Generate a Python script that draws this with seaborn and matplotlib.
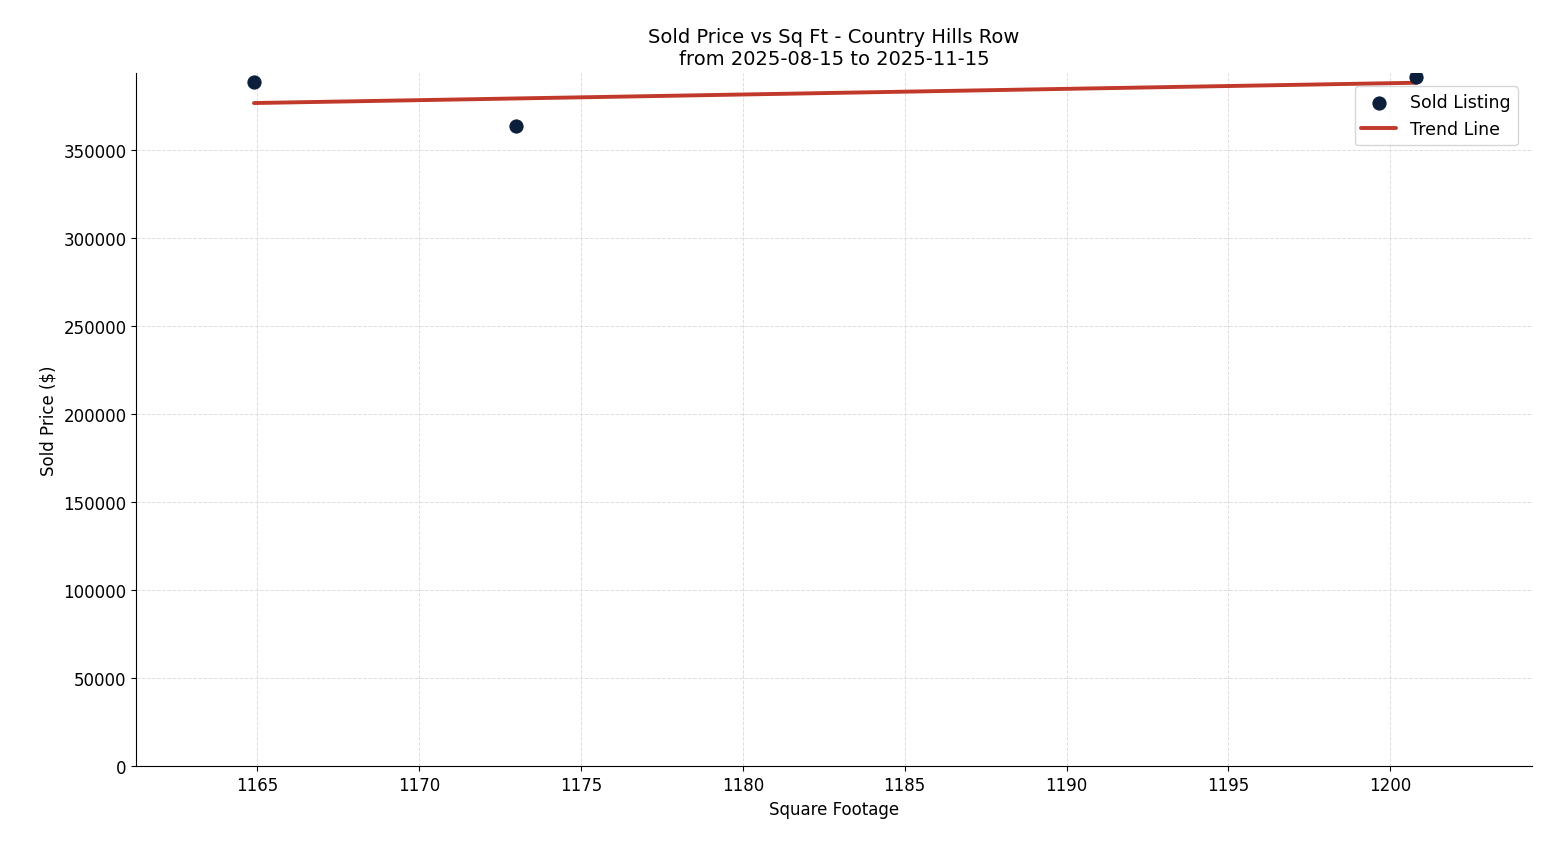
import numpy as np
import pandas as pd
import seaborn as sns
from matplotlib import pyplot as plt

sqft = [1164.9, 1173.0, 1200.8]
price = [389000, 364000, 392000]

sns.set_style("ticks")
plt.rcParams["font.family"] = ["DejaVu Sans"]
plt.rcParams["text.color"] = "black"
plt.rcParams["axes.labelcolor"] = "black"
plt.rcParams["xtick.color"] = "black"
plt.rcParams["ytick.color"] = "black"
plt.rcParams["axes.edgecolor"] = "black"

df = pd.DataFrame({"sqft": sqft, "price": price})

fig, ax = plt.subplots(figsize=(15.47, 8.45), dpi=100)
sns.scatterplot(data=df, x="sqft", y="price", s=90, color="#0b1f3a",
                edgecolor="#0b1f3a", label="Sold Listing", ax=ax, zorder=3)

slope, intercept = np.polyfit(df["sqft"], df["price"], 1)
xs = np.array([min(sqft), max(sqft)])
sns.lineplot(x=xs, y=slope * xs + intercept, color="#c0392b", linewidth=2.8,
             label="Trend Line", ax=ax)

ax.set_xlim(1161.26, 1204.36)
ax.set_ylim(0, 394300)
ax.grid(True, linestyle="--", color="#dddddd", linewidth=0.7)
ax.set_title("Sold Price vs Sq Ft - Country Hills Row\nfrom 2025-08-15 to 2025-11-15", fontsize=14)
ax.set_xlabel("Square Footage", fontsize=12)
ax.set_ylabel("Sold Price ($)", fontsize=12)
ax.tick_params(labelsize=12)
sns.despine(ax=ax)
ax.legend(loc="upper right", fontsize=12.5, borderaxespad=0.8)

plt.subplots_adjust(left=0.088, right=0.99, top=0.913, bottom=0.092)
plt.savefig("out.png")
